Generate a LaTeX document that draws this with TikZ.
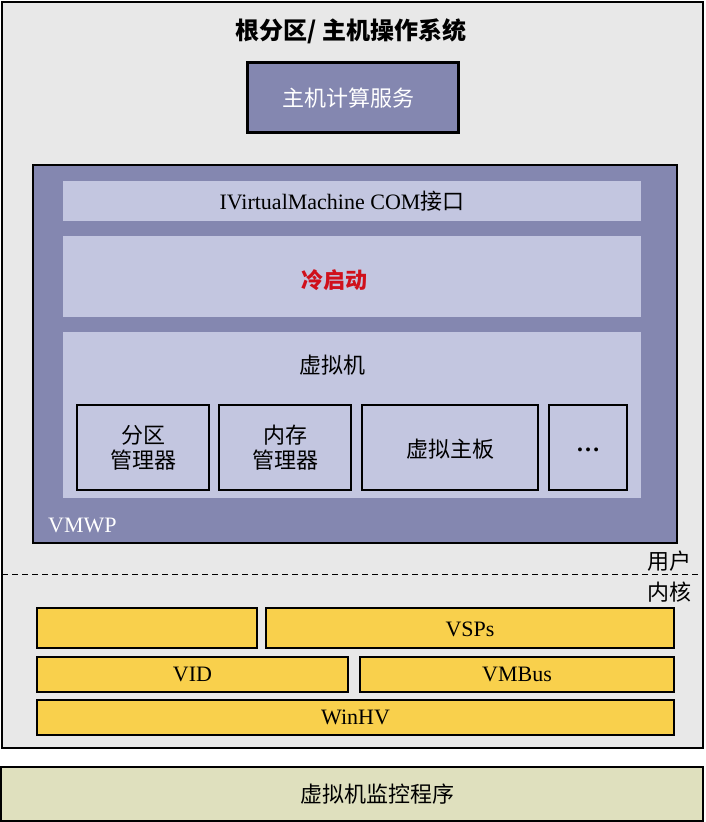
\documentclass[tikz,border=0pt]{standalone}
\usepackage{fontspec}
\setmainfont{Liberation Serif}
\newfontfamily\cjk{Noto Sans CJK SC}
\definecolor{rootgray}{HTML}{E8E8E8}
\definecolor{vmwpblue}{HTML}{8487B0}
\definecolor{striplight}{HTML}{C3C6E0}
\definecolor{kyellow}{HTML}{F9D04C}
\definecolor{hvgreen}{HTML}{DFE0BE}
\definecolor{coldred}{HTML}{D0101B}
\tikzset{
  blk/.style={anchor=north west, inner sep=0pt, outer sep=0pt},
  rootbox/.style={blk, draw=black, line width=2pt, fill=rootgray},
  hostbox/.style={blk, draw=black, line width=3pt, fill=vmwpblue},
  vmwpbox/.style={blk, draw=black, line width=2.2pt, fill=vmwpblue},
  strip/.style={blk, fill=striplight},
  compbox/.style={blk, draw=black, line width=2.6pt, fill=striplight},
  kbox/.style={blk, draw=black, line width=2.6pt, fill=kyellow},
  hvbox/.style={blk, draw=black, line width=2.2pt, fill=hvgreen},
  zh/.style={font=\cjk\fontsize{22}{25}\selectfont, inner sep=0pt},
  lat/.style={font=\fontsize{22}{24}\selectfont, inner sep=0pt},
}
\begin{document}
\begin{tikzpicture}[x=1pt,y=-1pt]
\useasboundingbox (0,0) rectangle (705,822);
% root partition
\node[rootbox, minimum width=701pt, minimum height=746pt] (root) at (2,2) {};
\node[zh, font=\cjk\bfseries\fontsize{24}{26}\selectfont] (title) at (351,31) {根分区/ 主机操作系统};
% host compute service
\node[hostbox, minimum width=211pt, minimum height=70pt] (hcs) at (247,62) {};
\node[zh, text=white] (hcslbl) at (348,98) {主机计算服务};
% VMWP
\node[vmwpbox, minimum width=644pt, minimum height=378pt] (vmwp) at (33,165) {};
\node[lat, text=white, anchor=west] (vmwplbl) at (48,525) {VMWP};
\node[strip, minimum width=578pt, minimum height=40pt] (com) at (63,181) {};
\node[anchor=center, inner sep=0pt] (comlbl) at (342,201) {\fontsize{22}{24}\selectfont IVirtualMachine COM{\cjk 接口}};
\node[strip, minimum width=578pt, minimum height=81pt] (cold) at (63,236) {};
\node[zh, font=\cjk\bfseries\fontsize{22}{25}\selectfont, text=coldred] (coldlbl) at (334,280) {冷启动};
\node[strip, minimum width=578pt, minimum height=166pt] (vm) at (63,332) {};
\node[zh] (vmlbl) at (332,365) {虚拟机};
\node[compbox, minimum width=132pt, minimum height=85pt] (pm) at (77,405) {};
\node[zh, align=center] (pmlbl) at (pm.center) {分区\\管理器};
\node[compbox, minimum width=132pt, minimum height=85pt] (mm) at (219,405) {};
\node[zh, align=center] (mmlbl) at (mm.center) {内存\\管理器};
\node[compbox, minimum width=176pt, minimum height=85pt] (mb) at (362,405) {};
\node[zh] (mblbl) at ([yshift=-2pt]mb.center) {虚拟主板};
\node[compbox, minimum width=78pt, minimum height=85pt] (more) at (549,405) {};
\node[lat, font=\bfseries\fontsize{24}{26}\selectfont] (morelbl) at ([yshift=-2pt]more.center) {\dots};
% user / kernel divider
\coordinate (dl) at (2,574);
\coordinate (dr) at (703,574);
\draw[line width=1pt, dash pattern=on 6pt off 4pt] (dl) -- (dr);
\node[zh, anchor=east] (user) at (692,561) {用户};
\node[zh, anchor=east] (kernel) at (692,592) {内核};
% kernel components
\node[kbox, minimum width=220pt, minimum height=40pt] (k1) at (37,608) {};
\node[kbox, minimum width=408pt, minimum height=40pt] (vsp) at (266,608) {};
\node[lat] (vsplbl) at (470,629) {VSPs};
\node[kbox, minimum width=311pt, minimum height=35pt] (vid) at (37,657) {};
\node[lat] (vidlbl) at (vid.center) {VID};
\node[kbox, minimum width=314pt, minimum height=35pt] (vmbus) at (360,657) {};
\node[lat] (vmbuslbl) at (vmbus.center) {VMBus};
\node[kbox, minimum width=637pt, minimum height=35pt] (winhv) at (37,700) {};
\node[lat] (winhvlbl) at (winhv.center) {WinHV};
% hypervisor
\node[hvbox, minimum width=702pt, minimum height=54pt] (hv) at (1,767) {};
\node[zh] (hvlbl) at (377,794) {虚拟机监控程序};
\end{tikzpicture}
\end{document}
